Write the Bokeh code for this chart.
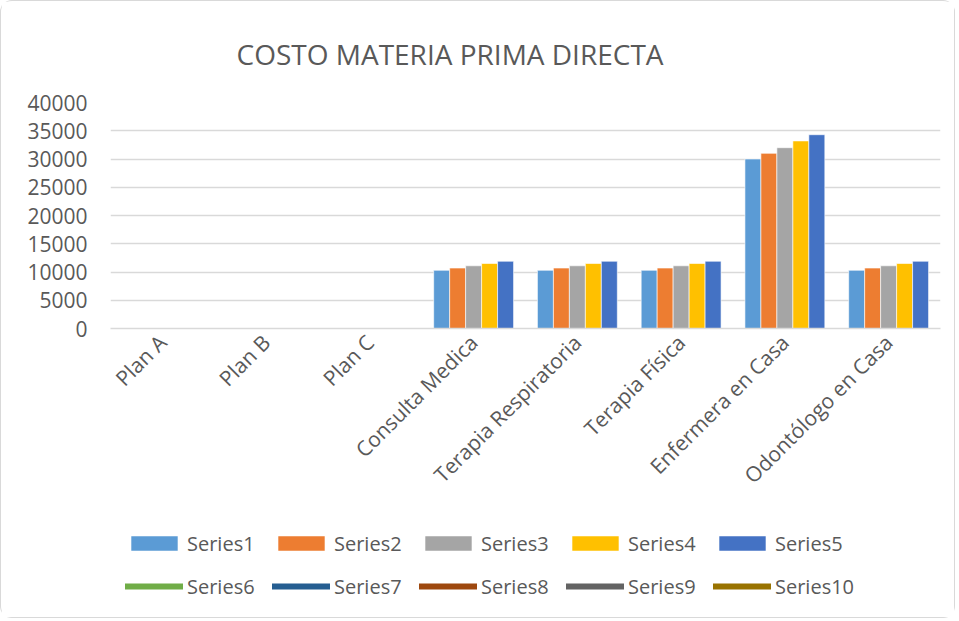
import math
from bokeh.plotting import figure
from bokeh.layouts import column
from bokeh.models import FactorRange, Range1d, FixedTicker, Legend, LegendItem, ColumnDataSource
from bokeh.transform import dodge
from bokeh.embed import file_html
from bokeh.resources import INLINE

categories = ["Plan A", "Plan B", "Plan C", "Consulta Medica", "Terapia Respiratoria",
              "Terapia Física", "Enfermera en Casa", "Odontólogo en Casa"]
series1 = [None, None, None, 10300, 10300, 10300, 30000, 10300]
series2 = [None, None, None, 10700, 10700, 10700, 31000, 10700]
series3 = [None, None, None, 11100, 11100, 11100, 32000, 11100]
series4 = [None, None, None, 11500, 11500, 11500, 33200, 11500]
series5 = [None, None, None, 11900, 11900, 11900, 34300, 11900]
series6 = [None] * 8
series7 = [None] * 8
series8 = [None] * 8
series9 = [None] * 8
series10 = [None] * 8
y_ticks = [0, 5000, 10000, 15000, 20000, 25000, 30000, 35000, 40000]

bar_names = ["Series1", "Series2", "Series3", "Series4", "Series5"]
bar_values = [series1, series2, series3, series4, series5]
bar_colors = ["#5B9BD5", "#ED7D31", "#A5A5A5", "#FFC000", "#4472C4"]
line_names = ["Series6", "Series7", "Series8", "Series9", "Series10"]
line_values = [series6, series7, series8, series9, series10]
line_colors = ["#70AD47", "#255E91", "#9E480E", "#636363", "#997300"]

TXT = "#595959"
GRID = "#d9d9d9"

def nanify(vals):
    return [float("nan") if v is None else v for v in vals]

data = {"cat": categories}
for n, v in zip(bar_names + line_names, bar_values + line_values):
    data[n] = nanify(v)
src = ColumnDataSource(data)

xr = FactorRange(*categories, range_padding=0)
w = 0.154

# ---- main chart ----
p = figure(x_range=xr, y_range=Range1d(0, 40000),
           width=955, height=507, output_backend="svg", toolbar_location=None,
           min_border_left=109, min_border_right=16, min_border_top=101, min_border_bottom=180)
p.styles = {"border": "1px solid #d9d9d9", "border-bottom": "none",
            "border-radius": "12px 12px 0 0"}
p.outline_line_color = None

p.title.text = "COSTO MATERIA PRIMA DIRECTA"
p.title.text_font = "Open Sans"
p.title.text_font_size = "28px"
p.title.text_font_style = "normal"
p.title.text_color = TXT
p.title.align = "left"
p.title.offset = 126
p.title.standoff = 59

for i, (n, c) in enumerate(zip(bar_names, bar_colors)):
    p.vbar(x=dodge("cat", (i - 2) * w, range=xr), top=n, width=w, source=src,
           fill_color=c, line_color="white", line_width=0.6)
for n, c in zip(line_names, line_colors):
    p.line(x="cat", y=n, source=src, line_color=c, line_width=6, line_cap="round")

p.yaxis.ticker = FixedTicker(ticks=y_ticks)
p.yaxis.axis_line_color = None
p.yaxis.major_tick_line_color = None
p.yaxis.minor_tick_line_color = None
p.yaxis.major_label_text_font = "Open Sans"
p.yaxis.major_label_text_font_size = "21px"
p.yaxis.major_label_text_color = TXT
p.yaxis.major_label_standoff = 17

p.xaxis.axis_line_color = GRID
p.xaxis.axis_line_width = 1.5
p.xaxis.major_tick_line_color = None
p.xaxis.major_label_orientation = math.pi / 4
p.xaxis.major_label_text_font = "Open Sans"
p.xaxis.major_label_text_font_size = "21px"
p.xaxis.major_label_text_color = TXT
p.xaxis.major_label_standoff = 4

p.xgrid.grid_line_color = None
p.ygrid.grid_line_color = GRID
p.ygrid.grid_line_width = 1.5

# ---- legend strip (same series, y range far above the data, only the legend shows) ----
lg = figure(x_range=xr, y_range=Range1d(1e6, 2e6), width=955, height=111,
            output_backend="svg", toolbar_location=None,
            min_border_left=109, min_border_right=16, min_border_top=0, min_border_bottom=0)
lg.styles = {"border": "1px solid #d9d9d9", "border-top": "none",
             "border-radius": "0 0 12px 12px"}
lg.axis.visible = False
lg.grid.visible = False
lg.outline_line_color = None

items = []
for i, (n, c) in enumerate(zip(bar_names, bar_colors)):
    r = lg.vbar(x=dodge("cat", (i - 2) * w, range=xr), top=n, width=w, source=src,
                fill_color=c, line_color=None)
    items.append(LegendItem(label=n, renderers=[r]))
for n, c in zip(line_names, line_colors):
    r = lg.line(x="cat", y=n, source=src, line_color=c, line_width=6, line_cap="round")
    items.append(LegendItem(label=n, renderers=[r]))

legend = Legend(items=items, ncols=5, location=(15, 17), orientation="horizontal",
                label_text_font="Open Sans", label_text_font_size="20px", label_text_color=TXT,
                glyph_width=58, glyph_height=18, label_standoff=4, spacing=13, padding=0, margin=0,
                label_height=30, label_width=72, border_line_color=None, background_fill_alpha=0)
lg.add_layout(legend, "center")

layout = column(p, lg, spacing=0)

open("out.html", "w").write(file_html(layout, INLINE))
